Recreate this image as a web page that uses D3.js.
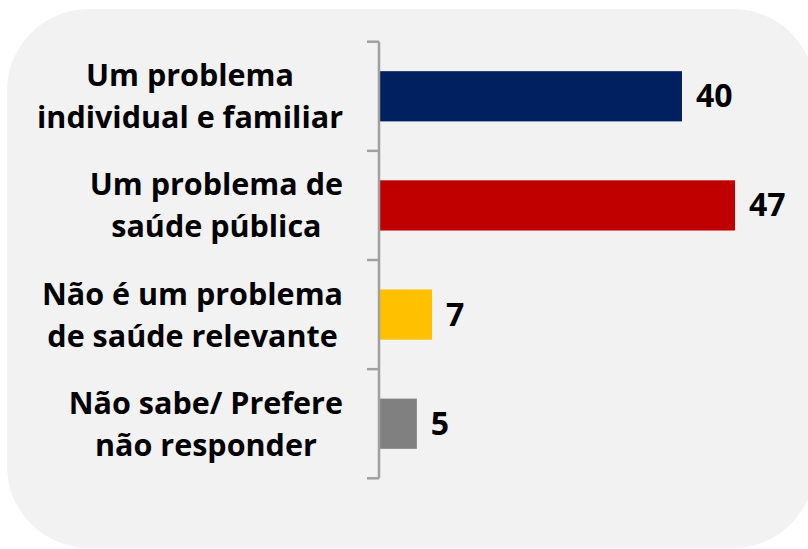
<!DOCTYPE html>
<html>
<head>
<meta charset="utf-8">
<script src="https://cdn.jsdelivr.net/npm/d3@7"></script>
<style>
  html, body { margin: 0; padding: 0; background: #ffffff; }
  #MyGraph { display: block; }
  .cat { font-family: "Open Sans", sans-serif; font-weight: 700; font-size: 30.5px; fill: #000; }
  .val { font-family: "Open Sans", sans-serif; font-weight: 700; font-size: 32px; fill: #000; }
</style>
</head>
<body>
<svg id="MyGraph" width="808" height="549"></svg>
<script>
// categories (each label split in two lines as in the original)
var categories = ["individual", "publica", "irrelevante", "nao_sabe"];
var labelLines = [
  ["Um problema", "individual e familiar"],
  ["Um problema de", "saúde pública"],
  ["Não é um problema", "de saúde relevante"],
  ["Não sabe/ Prefere", "não responder"]
];
var values = [40, 47, 7, 5];
var barColors = ["#002060", "#c00000", "#ffc000", "#808080"];

var svg = d3.select("#MyGraph");

// fundo arredondado
svg.append("rect")
    .attr("x", 7).attr("y", 9)
    .attr("width", 808).attr("height", 539)
    .attr("rx", 82).attr("ry", 82)
    .attr("fill", "#f2f2f2");

var axisX = 379;

// escala horizontal
var x_scale = d3.scaleLinear()
    .domain([0, 47])
    .range([axisX, 735]);

// escala vertical (bandas)
var y_scale = d3.scaleBand()
    .domain(categories)
    .range([41.7, 478.3])
    .paddingInner(0.54)
    .paddingOuter(0.27);

var step = y_scale.step();
var bw = y_scale.bandwidth();

// barras
svg.selectAll("rect.bar")
    .data(values)
    .enter()
    .append("rect")
    .attr("class", "bar")
    .attr("x", x_scale(0))
    .attr("y", function(d, i){ return y_scale(categories[i]); })
    .attr("width", function(d){ return x_scale(d) - x_scale(0); })
    .attr("height", bw)
    .attr("fill", function(d, i){ return barColors[i]; });

// eixo Y: linha + marcas entre categorias
var r = y_scale.range();
svg.append("line")
    .attr("x1", axisX).attr("x2", axisX)
    .attr("y1", r[0]).attr("y2", r[1])
    .attr("stroke", "#a0a0a0").attr("stroke-width", 2.5);

d3.range(categories.length + 1).forEach(function(k){
  var yy = r[0] + k * step;
  svg.append("line")
      .attr("x1", axisX - 12).attr("x2", axisX)
      .attr("y1", yy).attr("y2", yy)
      .attr("stroke", "#a0a0a0").attr("stroke-width", 2.5);
});

// valores
svg.selectAll("text.val")
    .data(values)
    .enter()
    .append("text")
    .attr("class", "val")
    .attr("x", function(d){ return x_scale(d) + 14; })
    .attr("y", function(d, i){ return y_scale(categories[i]) + bw / 2 + 11; })
    .text(function(d){ return d; });

// rótulos das categorias
var lineGap = 42;
var rightEdge = 343;
labelLines.forEach(function(lines, i){
  var cy = y_scale(categories[i]) + bw / 2;
  var g = svg.append("g");
  var texts = lines.map(function(s, j){
    return g.append("text")
        .attr("class", "cat")
        .attr("text-anchor", "middle")
        .attr("y", cy + (j - (lines.length - 1) / 2) * lineGap + 11)
        .text(s);
  });
  var maxW = d3.max(texts, function(t){ return t.node().getComputedTextLength(); });
  texts.forEach(function(t){ t.attr("x", rightEdge - maxW / 2); });
});
</script>
</body>
</html>
